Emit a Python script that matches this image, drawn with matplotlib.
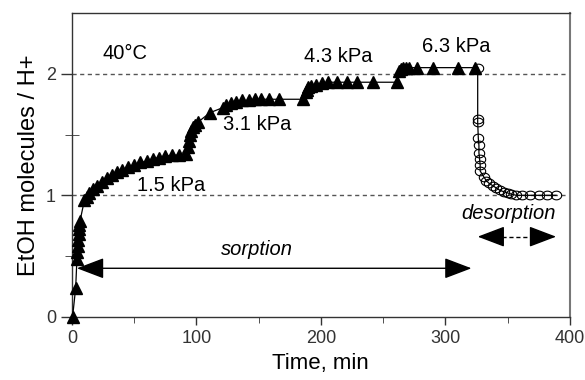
import numpy as np
import matplotlib
matplotlib.use("Agg")
import matplotlib.pyplot as plt
from matplotlib.path import Path

plt.rcParams['font.family'] = ['Liberation Sans', 'DejaVu Sans']

# ---- data ----
sorp_t = [0.5, 3, 4, 4.3, 4.6, 5, 5.3, 5.6, 6, 6.5,
          10, 12, 14, 17, 20, 24, 28, 32, 36, 40, 45, 50, 55, 60, 65, 70, 75, 80, 86, 92,
          93, 94, 95, 96, 97, 99, 101, 111, 121, 124, 128, 132, 137, 142, 147, 152, 158, 166, 186,
          188, 189, 190, 192, 196, 201, 206, 213, 221, 229, 242, 261,
          263, 264, 266, 268, 271, 277, 290, 310, 324]
sorp_y = [0.0, 0.24, 0.48, 0.53, 0.58, 0.63, 0.68, 0.72, 0.76, 0.79,
          0.96, 0.99, 1.02, 1.05, 1.08, 1.11, 1.14, 1.17, 1.19, 1.21, 1.23, 1.25, 1.27, 1.28, 1.30, 1.31, 1.32, 1.33, 1.33, 1.34,
          1.40, 1.45, 1.50, 1.53, 1.56, 1.58, 1.60, 1.68, 1.72, 1.74, 1.76, 1.77, 1.78, 1.78, 1.79, 1.79, 1.79, 1.79, 1.79,
          1.85, 1.87, 1.89, 1.90, 1.91, 1.92, 1.93, 1.93, 1.93, 1.93, 1.93, 1.93,
          2.02, 2.04, 2.05, 2.05, 2.05, 2.05, 2.05, 2.05, 2.05]

desorp_t = [326, 326, 326, 326.5, 327, 327, 327.5, 328, 328, 331, 333, 335, 338, 341, 344, 347,
            350, 353, 357, 362, 368, 375, 382, 389]
desorp_y = [2.05, 1.63, 1.60, 1.47, 1.41, 1.35, 1.30, 1.25, 1.20, 1.15, 1.12, 1.10, 1.08, 1.06,
            1.04, 1.03, 1.02, 1.01, 1.00, 1.00, 1.00, 1.00, 1.00, 1.00]

ref_levels = [1, 2]
pressure_labels = ["1.5 kPa", "3.1 kPa", "4.3 kPa", "6.3 kPa"]
pressure_pos = [(80, 1.08), (149, 1.58), (214, 2.14), (309, 2.22)]
temp_label = "40°C"
temp_pos = (43, 2.17)
sorp_arrow = (4, 321, 0.40)
sorp_text_pos = (149, 0.555)
desorp_arrow = (326, 389, 0.66)
desorp_text_pos = (351, 0.85)

# ---- figure ----
fig = plt.figure(figsize=(5.85, 3.8), dpi=100)
ax = fig.add_axes([0.123, 0.166, 0.851, 0.800])

for lv in ref_levels:
    ax.axhline(lv, color='#555555', lw=1.0, ls=(0, (3, 2.5)), zorder=1)

ax.plot(sorp_t, sorp_y, color='black', lw=0.9, marker='^', ms=8.5,
        mfc='black', mec='black', zorder=3, clip_on=False)

theta = np.linspace(0, 2 * np.pi, 41)
ell = Path(np.column_stack([1.2 * np.cos(theta), np.sin(theta)]))
ax.plot(desorp_t, desorp_y, color='black', lw=0.9, marker=ell, ms=7.5,
        mfc='none', mec='black', mew=0.8, zorder=3)

# annotations
fs_ann = 14.5
for lab, (px, py) in zip(pressure_labels, pressure_pos):
    ax.text(px, py, lab, fontsize=fs_ann, ha='center', va='center')
ax.text(*temp_pos, temp_label, fontsize=fs_ann, ha='center', va='center')

x0, x1, ya = sorp_arrow
ax.annotate('', xy=(x0, ya), xytext=(x1, ya),
            arrowprops=dict(arrowstyle='<|-|>,head_length=1.0,head_width=0.38',
                            mutation_scale=17, color='black', lw=1.0,
                            shrinkA=0, shrinkB=0))
ax.text(*sorp_text_pos, 'sorption', fontsize=fs_ann, style='italic',
        ha='center', va='center')

d0, d1, yd = desorp_arrow
ax.plot([d0 + 14, d1 - 14], [yd, yd], color='black', lw=1.0, ls=(0, (3, 2)))
ax.annotate('', xy=(d0, yd), xytext=(d0 + 15, yd),
            arrowprops=dict(arrowstyle='-|>,head_length=1.0,head_width=0.38',
                            mutation_scale=17, color='black', lw=1.0,
                            shrinkA=0, shrinkB=0))
ax.annotate('', xy=(d1, yd), xytext=(d1 - 15, yd),
            arrowprops=dict(arrowstyle='-|>,head_length=1.0,head_width=0.38',
                            mutation_scale=17, color='black', lw=1.0,
                            shrinkA=0, shrinkB=0))
ax.text(*desorp_text_pos, 'desorption', fontsize=fs_ann, style='italic',
        ha='center', va='center')

ax.set_xlim(0, 400)
ax.set_ylim(0, 2.5)
ax.set_xticks([0, 100, 200, 300, 400])
ax.set_xticks([50, 150, 250, 350], minor=True)
ax.set_yticks([0, 1, 2])
ax.set_yticks([0.5, 1.5], minor=True)
ax.tick_params(axis='both', which='major', labelsize=13, labelcolor='#333333',
               color='#333333', width=1.0)
ax.tick_params(axis='x', which='major', direction='out', length=6)
ax.tick_params(axis='x', which='minor', direction='out', length=4, color='#333333')
ax.tick_params(axis='y', which='major', direction='out', length=8)
ax.tick_params(axis='y', which='minor', direction='inout', length=10, color='#333333')

for s in ax.spines.values():
    s.set_color('#333333')
    s.set_linewidth(1.0)
ax.spines['right'].set_color('#777777')
ax.spines['right'].set_linewidth(1.5)

ax.set_xlabel('Time, min', fontsize=16)
ax.set_ylabel('EtOH molecules / H+', fontsize=17)

fig.savefig('out.png', dpi=100)
